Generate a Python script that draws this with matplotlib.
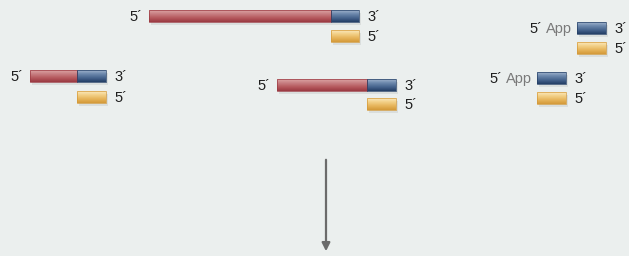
import matplotlib
matplotlib.use("Agg")
import matplotlib.pyplot as plt
import numpy as np
from matplotlib.colors import LinearSegmentedColormap

# Constructs (pixel-space layout of the diagram)
names = ["top", "left", "middle", "app_top", "app_bottom"]
red_start = [149, 30, 277, None, None]
blue_start = [331, 77, 367, 577, 537]
blue_end = [359, 106, 396, 606, 566]
row_y = [16, 76, 85, 28, 78]
yellow_y = [36, 97, 104, 48, 98]
left_labels = ["5´", "5´", "5´", "5´", "5´"]
app_labels = [None, None, None, "App", "App"]
right_top_labels = ["3´"] * 5
right_bottom_labels = ["5´"] * 5

RED = ["#dba4a4", "#c77d80", "#b5585d", "#9b3a42"]
BLUE = ["#9fb3cc", "#6a86ab", "#46648d", "#243f66"]
YEL = ["#fbe8bc", "#f2cf85", "#e6b45a", "#d49a3a"]

fig = plt.figure(figsize=(6.29, 2.56), dpi=100)
ax = fig.add_axes([0, 0, 1, 1])
ax.set_xlim(0, 629)
ax.set_ylim(256, 0)
ax.axis("off")
fig.patch.set_facecolor("#ebefee")

H = 12
grad = np.linspace(0, 1, 32).reshape(-1, 1)

def bar(x0, x1, yc, cols):
    # soft shadow
    ax.barh(yc + 3, x1 - x0, left=x0 + 2, height=H, color="#cfd3d2", alpha=0.6, zorder=1, linewidth=0)
    cmap = LinearSegmentedColormap.from_list("g", cols)
    ax.imshow(grad, cmap=cmap, extent=[x0, x1, yc + H / 2, yc - H / 2], aspect="auto",
              interpolation="bilinear", zorder=2)
    ax.barh(yc, x1 - x0, left=x0, height=H, facecolor="none", edgecolor=cols[-1],
            linewidth=0.5, zorder=3)

FONT = "Liberation Sans"
fs = 10.5
TXT = "#1e1e1e"
for i in range(len(names)):
    yc = row_y[i]
    if red_start[i] is not None:
        bar(red_start[i], blue_start[i], yc, RED)
        ax.text(red_start[i] - 7, yc + 1, left_labels[i], ha="right", va="center", fontsize=fs,
                color=TXT, family=FONT)
    else:
        ax.text(blue_start[i] - 5, yc + 1, app_labels[i], ha="right", va="center", fontsize=fs,
                color="#7a7a7a", family=FONT)
        ax.text(blue_start[i] - 35, yc + 1, left_labels[i], ha="right", va="center", fontsize=fs,
                color=TXT, family=FONT)
    bar(blue_start[i], blue_end[i], yc, BLUE)
    bar(blue_start[i], blue_end[i], yellow_y[i], YEL)
    ax.text(blue_end[i] + 8, yc + 1, right_top_labels[i], ha="left", va="center", fontsize=fs,
            color=TXT, family=FONT)
    ax.text(blue_end[i] + 8, yellow_y[i] + 1, right_bottom_labels[i], ha="left", va="center",
            fontsize=fs, color=TXT, family=FONT)

ax.annotate("", xy=(326, 254), xytext=(326, 157),
            arrowprops=dict(arrowstyle="-|>", color="#6b6b6b", lw=1.6, mutation_scale=12))

ax.set_xlim(0, 629)
ax.set_ylim(256, 0)
fig.savefig("out.png", dpi=100, facecolor=fig.get_facecolor())
